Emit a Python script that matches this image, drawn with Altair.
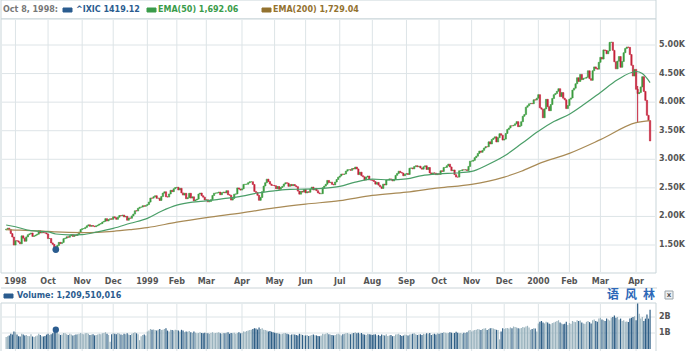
import altair as alt
import pandas as pd

# ---------------- daily closes (^IXIC) and volumes (x 10 million), by month ----------------
first_open = 1765

c_1998_08 = [1777, 1794, 1770, 1700, 1640, 1499]
v_1998_08 = [75, 80, 85, 95, 90, 110]
c_1998_09 = [1575, 1572, 1550, 1521, 1660, 1620, 1566, 1642, 1680, 1695, 1710, 1650, 1660, 1675, 1690, 1750, 1710, 1720, 1715, 1712, 1694]
v_1998_09 = [105, 90, 80, 78, 95, 90, 85, 88, 82, 80, 92, 78, 75, 80, 85, 95, 88, 80, 78, 82, 90]
c_1998_10 = [1612, 1614, 1537, 1511, 1468, 1419, 1493, 1546, 1525, 1545, 1611, 1620, 1643, 1635, 1663, 1681, 1650, 1674, 1667, 1690, 1727, 1771]
v_1998_10 = [95, 88, 92, 98, 110, 121, 105, 95, 88, 90, 100, 98, 92, 88, 95, 90, 85, 88, 90, 92, 95, 100]
c_1998_11 = [1786, 1787, 1808, 1835, 1853, 1827, 1841, 1829, 1821, 1836, 1848, 1866, 1875, 1902, 1914, 1961, 1921, 1945, 1960, 1950]
v_1998_11 = [95, 92, 98, 100, 96, 88, 90, 92, 85, 88, 90, 95, 92, 98, 100, 105, 95, 88, 45, 92]
c_1998_12 = [1993, 1977, 1949, 1986, 2016, 2013, 2024, 1991, 2002, 1934, 1973, 1968, 2009, 2041, 2099, 2095, 2142, 2161, 2163, 2187, 2177, 2193]
v_1998_12 = [98, 95, 92, 100, 96, 90, 88, 95, 92, 98, 90, 88, 95, 100, 105, 98, 92, 55, 80, 88, 90, 85]
c_1999_01 = [2208, 2251, 2321, 2320, 2345, 2362, 2317, 2320, 2280, 2348, 2408, 2431, 2344, 2339, 2393, 2457, 2434, 2484, 2505]
v_1999_01 = [110, 115, 125, 120, 122, 118, 115, 120, 125, 118, 120, 125, 130, 115, 110, 120, 118, 115, 120]
c_1999_02 = [2510, 2463, 2492, 2412, 2374, 2405, 2310, 2327, 2405, 2321, 2343, 2272, 2289, 2303, 2392, 2409, 2362, 2337, 2288]
v_1999_02 = [118, 115, 110, 120, 115, 105, 110, 108, 112, 105, 100, 110, 102, 98, 100, 105, 100, 98, 102]
c_1999_03 = [2292, 2255, 2262, 2293, 2366, 2406, 2408, 2413, 2426, 2380, 2415, 2426, 2413, 2450, 2380, 2371, 2286, 2315, 2389, 2394, 2499, 2480, 2461]
v_1999_03 = [100, 98, 95, 100, 105, 98, 100, 102, 105, 98, 95, 100, 98, 102, 105, 95, 100, 98, 102, 95, 100, 105, 98]
c_1999_04 = [2483, 2560, 2563, 2564, 2591, 2607, 2607, 2560, 2438, 2417, 2369, 2282, 2332, 2434, 2532, 2590, 2652, 2610, 2566, 2543, 2542]
v_1999_04 = [100, 110, 108, 112, 115, 118, 120, 125, 130, 128, 122, 135, 125, 130, 120, 118, 115, 110, 112, 108, 105]
c_1999_05 = [2535, 2485, 2523, 2474, 2506, 2526, 2567, 2589, 2582, 2527, 2560, 2537, 2558, 2535, 2521, 2443, 2390, 2439, 2426, 2471]
v_1999_05 = [102, 98, 100, 95, 92, 95, 98, 100, 95, 92, 88, 90, 92, 90, 88, 85, 95, 92, 88, 85]
c_1999_06 = [2412, 2432, 2423, 2478, 2513, 2464, 2490, 2450, 2412, 2398, 2398, 2503, 2531, 2563, 2630, 2593, 2600, 2561, 2552, 2602, 2646, 2686]
v_1999_06 = [85, 88, 82, 85, 88, 90, 86, 85, 82, 80, 85, 95, 92, 95, 100, 92, 90, 88, 85, 88, 92, 95]
c_1999_07 = [2707, 2741, 2736, 2743, 2793, 2818, 2819, 2807, 2839, 2830, 2864, 2831, 2732, 2774, 2712, 2693, 2636, 2690, 2707, 2640, 2638]
v_1999_07 = [90, 85, 92, 95, 98, 100, 95, 92, 98, 100, 105, 98, 102, 95, 100, 92, 90, 88, 95, 92, 90]
c_1999_08 = [2631, 2611, 2565, 2595, 2547, 2518, 2490, 2565, 2550, 2637, 2638, 2657, 2648, 2622, 2648, 2719, 2752, 2791, 2768, 2758, 2712, 2739]
v_1999_08 = [88, 90, 92, 85, 88, 82, 90, 88, 85, 92, 82, 85, 88, 80, 82, 90, 92, 95, 88, 82, 85, 90]
c_1999_09 = [2750, 2734, 2843, 2849, 2833, 2872, 2887, 2869, 2880, 2847, 2827, 2869, 2886, 2822, 2856, 2762, 2740, 2762, 2757, 2731, 2746]
v_1999_09 = [88, 85, 90, 92, 95, 98, 92, 88, 90, 92, 88, 95, 92, 98, 95, 100, 88, 92, 95, 90, 98]
c_1999_10 = [2736, 2799, 2788, 2857, 2858, 2887, 2915, 2866, 2801, 2813, 2731, 2689, 2688, 2799, 2801, 2817, 2815, 2817, 2803, 2875, 2967]
v_1999_10 = [95, 98, 100, 105, 102, 98, 100, 105, 102, 98, 100, 108, 102, 98, 100, 95, 102, 100, 105, 115, 118]
c_1999_11 = [2967, 2981, 3029, 3055, 3102, 3144, 3123, 3156, 3197, 3221, 3219, 3305, 3269, 3347, 3369, 3393, 3303, 3378, 3448, 3421, 3336]
v_1999_11 = [110, 115, 118, 120, 125, 122, 118, 125, 128, 130, 118, 125, 130, 132, 128, 125, 120, 118, 60, 110, 130]
c_1999_12 = [3353, 3452, 3521, 3547, 3587, 3586, 3594, 3621, 3659, 3571, 3586, 3658, 3753, 3783, 3911, 3937, 3970, 3977, 3972, 4041, 4036, 4069]
v_1999_12 = [125, 130, 132, 128, 135, 130, 140, 138, 135, 130, 128, 132, 138, 135, 140, 145, 135, 120, 125, 130, 128, 110]
c_2000_01 = [4131, 3901, 3877, 3727, 3882, 4049, 3921, 3850, 3957, 4064, 4131, 4152, 4190, 4235, 4097, 4167, 4069, 4040, 3887, 3940]
v_2000_01 = [160, 170, 175, 165, 160, 170, 165, 158, 155, 162, 165, 170, 175, 180, 165, 160, 155, 158, 170, 150]
c_2000_02 = [4051, 4073, 4211, 4244, 4322, 4427, 4363, 4485, 4395, 4418, 4420, 4435, 4549, 4411, 4382, 4550, 4617, 4590, 4577, 4697]
v_2000_02 = [162, 158, 175, 170, 168, 180, 175, 178, 165, 160, 158, 170, 175, 168, 160, 180, 185, 175, 170, 190]
c_2000_03 = [4784, 4754, 4914, 4904, 4847, 4897, 5046, 5049, 4907, 4707, 4583, 4717, 4798, 4610, 4711, 4865, 4940, 4964, 4959, 4833, 4645, 4457, 4573]
v_2000_03 = [195, 185, 180, 175, 190, 185, 178, 195, 200, 210, 195, 200, 185, 190, 175, 180, 170, 172, 168, 190, 195, 200, 205]
c_2000_04 = [4224, 4149, 4169, 4267, 4446, 4188, 4031, 3769, 3677, 3321]
v_2000_04 = [180, 285, 220, 190, 200, 175, 190, 215, 190, 245]

# notable intraday wick (trading-day index, low, high)
wick_idx = [407]
wick_low = [3649]
wick_high = [4283]

# moving averages (trading-day index, value)
ema50_idx = [0, 6, 16, 27, 32, 40, 49, 59, 69, 80, 91, 100, 110, 120, 129, 140, 152, 162, 173, 183, 193, 204,
             215, 225, 236, 247, 258, 268, 279, 290, 300, 310, 321, 332, 343, 353, 363, 373, 383, 394, 406, 410, 415]
ema50_val = [1850, 1819, 1750, 1730, 1692, 1678, 1682, 1730, 1790, 1880, 1966, 2090, 2197, 2250, 2273, 2310, 2355,
             2410, 2449, 2475, 2477, 2490, 2526, 2600, 2653, 2640, 2657, 2715, 2744, 2760, 2787, 2900, 3056, 3270,
             3491, 3660, 3788, 3970, 4169, 4390, 4536, 4500, 4343]
ema200_idx = [0, 6, 16, 27, 32, 49, 59, 69, 80, 91, 110, 129, 152, 173, 193, 215, 236, 258, 279, 300, 321, 332,
              343, 363, 383, 406, 415]
ema200_val = [1768, 1762, 1752, 1740, 1729, 1715, 1722, 1740, 1770, 1805, 1899, 1979, 2063, 2150, 2215, 2276, 2368,
              2424, 2499, 2560, 2689, 2790, 2920, 3104, 3344, 3642, 3678]

price_levels = [1500, 2000, 2500, 3000, 3500, 4000, 4500, 5000]
volume_levels = [1e9, 2e9]
volume_labels = ["1B", "2B"]

marker_idx = 32
marker_low = 1419.12
marker_vol = 1209510016

brand_chars = ["语", "风", "林"]

months = [
    ("", c_1998_08, v_1998_08), ("1998", c_1998_09, v_1998_09), ("Oct", c_1998_10, v_1998_10),
    ("Nov", c_1998_11, v_1998_11), ("Dec", c_1998_12, v_1998_12), ("1999", c_1999_01, v_1999_01),
    ("Feb", c_1999_02, v_1999_02), ("Mar", c_1999_03, v_1999_03), ("Apr", c_1999_04, v_1999_04),
    ("May", c_1999_05, v_1999_05), ("Jun", c_1999_06, v_1999_06), ("Jul", c_1999_07, v_1999_07),
    ("Aug", c_1999_08, v_1999_08), ("Sep", c_1999_09, v_1999_09), ("Oct", c_1999_10, v_1999_10),
    ("Nov", c_1999_11, v_1999_11), ("Dec", c_1999_12, v_1999_12), ("2000", c_2000_01, v_2000_01),
    ("Feb", c_2000_02, v_2000_02), ("Mar", c_2000_03, v_2000_03), ("Apr", c_2000_04, v_2000_04),
]

# ---------------- styles ----------------
UP, DOWN = "#3a9c3e", "#c4213a"
VUP, VDOWN = "#9ab3be", "#2f5f86"
GRID = "#dde4e7"
FRAME = "#c9d5d9"
FONT = "DejaVu Sans"
W, H = 655, 332

rows, starts = [], []
prev = first_open
i = 0
for label, cl, vo in months:
    if label:
        starts.append({"idx": i, "label": label})
    for c, v in zip(cl, vo):
        up = c >= prev
        rows.append({"idx": i, "open": prev, "close": c, "vol": v * 1e7,
                     "ccol": UP if up else DOWN, "vcol": VUP if up else VDOWN})
        prev = c
        i += 1
df = pd.DataFrame(rows)
df_starts = pd.DataFrame(starts)
df_e50 = pd.DataFrame({"idx": ema50_idx, "v": ema50_val})
df_e200 = pd.DataFrame({"idx": ema200_idx, "v": ema200_val})
df_lv = pd.DataFrame({"lvl": price_levels, "txt": [f"{p/1000:.2f}K" for p in price_levels]})
df_vl = pd.DataFrame({"lvl": volume_levels, "txt": volume_labels})
df_wick = pd.DataFrame({"idx": wick_idx, "lo": wick_low, "hi": wick_high})
df_mark = pd.DataFrame({"idx": [marker_idx], "low": [marker_low], "vol": [marker_vol]})
one = pd.DataFrame({"k": [0]})

X = alt.Scale(domain=[-0.1, 415.6], nice=False, zero=False)
YM = alt.Scale(domain=[1010, 5455], range=[254, 0], nice=False, zero=False)
YV = alt.Scale(domain=[0, 2.875e9], range=[330, 284], nice=False, zero=False)

xi = alt.X("idx:Q", scale=X, axis=None)

def box(x0, x1, y0, y1, fill="white", stroke=FRAME):
    return alt.Chart(one).mark_rect(fill=fill, stroke=stroke, strokeWidth=1).encode(
        x=alt.value(x0), x2=alt.value(x1), y=alt.value(y0), y2=alt.value(y1))

def txt(x, y, s, color, size=8, weight="bold", font=FONT, align="left"):
    return alt.Chart(one).mark_text(align=align, baseline="middle", fontSize=size, fontWeight=weight,
                                    font=font, color=color).encode(
        x=alt.value(x), y=alt.value(y), text=alt.value(s))

layers = []
layers.append(box(0, W, -19, 0))
layers.append(box(0, W, 0, 254))
layers.append(box(0, W, 284, H + 2))

# grids
layers.append(alt.Chart(df_starts).mark_rule(color=GRID, strokeWidth=1).encode(
    x=xi, y=alt.value(1), y2=alt.value(253)))
layers.append(alt.Chart(df_starts).mark_rule(color=GRID, strokeWidth=1).encode(
    x=xi, y=alt.value(285), y2=alt.value(H + 2)))
layers.append(alt.Chart(df_lv).mark_rule(color=GRID, strokeWidth=1).encode(
    y=alt.Y("lvl:Q", scale=YM, axis=None), x=alt.value(1), x2=alt.value(W - 1)))
layers.append(alt.Chart(df_vl).mark_rule(color=GRID, strokeWidth=1).encode(
    y=alt.Y("lvl:Q", scale=YV, axis=None), x=alt.value(1), x2=alt.value(W - 1)))

# separator between panels
layers.append(alt.Chart(one).mark_rule(color="#cbd4d8", strokeWidth=1).encode(
    x=alt.value(0), x2=alt.value(W + 1), y=alt.value(269)))

# candles
layers.append(alt.Chart(df_wick).mark_rule(color=DOWN, strokeWidth=1, clip=True).encode(
    x=xi, y=alt.Y("lo:Q", scale=YM, axis=None), y2="hi:Q"))
layers.append(alt.Chart(df).mark_bar(width=1.3, strokeWidth=0.6, clip=True).encode(
    x=xi, y=alt.Y("open:Q", scale=YM, axis=None), y2="close:Q",
    color=alt.Color("ccol:N", scale=None), stroke=alt.Stroke("ccol:N", scale=None)))

# moving averages
layers.append(alt.Chart(df_e200).mark_line(color="#a88a55", strokeWidth=1.2, interpolate="monotone", clip=True).encode(
    x=xi, y=alt.Y("v:Q", scale=YM, axis=None)))
layers.append(alt.Chart(df_e50).mark_line(color="#4a9e68", strokeWidth=1.2, interpolate="monotone", clip=True).encode(
    x=xi, y=alt.Y("v:Q", scale=YM, axis=None)))

# volume
layers.append(alt.Chart(df).mark_bar(width=1.2).encode(
    x=xi, y=alt.Y("vol:Q", scale=YV, axis=None), y2=alt.value(330),
    color=alt.Color("vcol:N", scale=None)))

# markers at Oct 8, 1998
layers.append(alt.Chart(df_mark).mark_point(filled=True, size=45, color="#2b5c8f", opacity=1).encode(
    x=xi, y=alt.Y("low:Q", scale=YM, axis=None)))
layers.append(alt.Chart(df_mark).mark_point(filled=True, size=40, color="#2b5c8f", opacity=1).encode(
    x=xi, y=alt.Y("vol:Q", scale=YV, axis=None)))

# month labels and value labels
layers.append(alt.Chart(df_starts).mark_text(fontSize=8, fontWeight="bold", font=FONT, color="#555555",
                                             baseline="middle").encode(
    x=xi, y=alt.value(262.5), text="label:N"))
layers.append(alt.Chart(df_lv).mark_text(fontSize=8, fontWeight="bold", font=FONT, color="#555555",
                                         align="left", baseline="middle").encode(
    x=alt.value(658), y=alt.Y("lvl:Q", scale=YM, axis=None), text="txt:N"))
layers.append(alt.Chart(df_vl).mark_text(fontSize=8, fontWeight="bold", font=FONT, color="#555555",
                                         align="left", baseline="middle").encode(
    x=alt.value(658), y=alt.Y("lvl:Q", scale=YV, axis=None), text="txt:N"))

# header legend
layers.append(txt(2, -9, "Oct 8, 1998:", "#777777"))
layers.append(box(62, 71, -11, -7, fill="#2b5c8f", stroke="#2b5c8f"))
layers.append(txt(75, -9, "^IXIC 1419.12", "#2b5c8f"))
layers.append(box(146, 155, -11, -7, fill="#3a9c4a", stroke="#3a9c4a"))
layers.append(txt(157, -9, "EMA(50) 1,692.06", "#3a9c4a"))
layers.append(box(261, 270, -11, -7, fill="#93722f", stroke="#93722f"))
layers.append(txt(272, -9, "EMA(200) 1,729.04", "#93722f"))

# volume header
layers.append(box(3, 12, 275, 279, fill="#2b5c8f", stroke="#2b5c8f"))
layers.append(txt(16, 277, "Volume: 1,209,510,016", "#2b5c8f"))
for k, ch in enumerate(brand_chars):
    layers.append(txt(612 + 18 * k, 276, ch, "#2d68b8", size=12, font="Noto Sans CJK SC", align="center"))
layers.append(box(664, 672, 272, 280, fill="#eef1f3", stroke="#9aa4aa"))
layers.append(txt(668, 275.5, "x", "#555555", size=7, align="center"))

chart = alt.layer(*layers).resolve_scale(y="independent").properties(
    width=W, height=H,
    padding={"left": 1, "top": 19, "right": 34, "bottom": 0},
    autosize=alt.AutoSizeParams(type="none"),
).configure_view(stroke=None)

chart.save("out.html", embed_options={"renderer": "svg", "actions": False})
